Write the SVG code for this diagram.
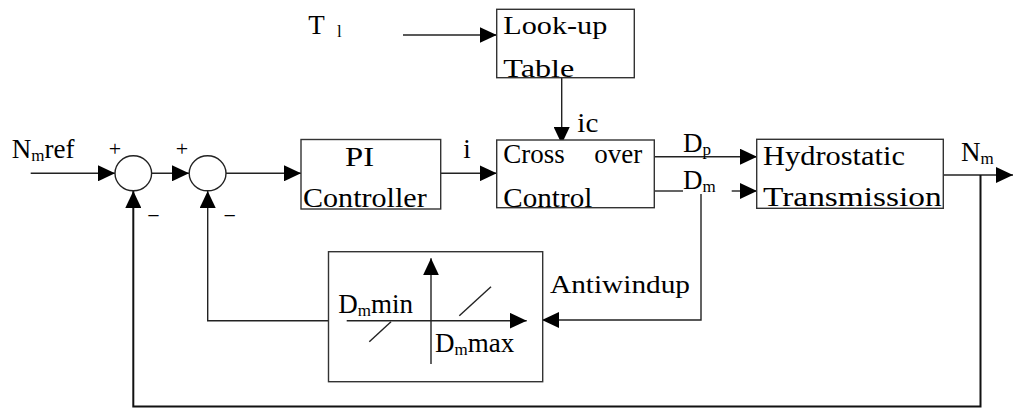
<svg xmlns="http://www.w3.org/2000/svg" width="1014" height="408" viewBox="0 0 1014 408" font-family="'Liberation Serif', 'DejaVu Serif', serif">
<defs>
<style>
.ln{fill:none;stroke:#222;stroke-width:1.4}
.fb{fill:none;stroke:#111;stroke-width:2}
.bx{fill:#fff;stroke:#333;stroke-width:1.4}
.sm{fill:#fff;stroke:#222;stroke-width:1.4}
.t{font-family:'Liberation Serif','DejaVu Serif',serif;fill:#000;font-size:27px}
.s26{font-size:26px}
.sub{font-size:17px}
.pm{font-size:22px;text-anchor:middle}
</style>
<marker id="ah" viewBox="0 0 17 16" refX="17" refY="8" markerWidth="17" markerHeight="16" markerUnits="userSpaceOnUse" orient="auto"><path d="M0,0 L17,8 L0,16 z" fill="#000"/></marker>
</defs>
<rect width="1014" height="408" fill="#fff"/>

<g id="connectors">
<path class="ln" d="M30.7 173.3 H115" marker-end="url(#ah)"/>
<path class="ln" d="M151.7 173.3 H189" marker-end="url(#ah)"/>
<path class="ln" d="M226 173.3 H301" marker-end="url(#ah)"/>
<path class="ln" d="M440.7 173.3 H496.7" marker-end="url(#ah)"/>
<path class="ln" d="M403 35 H496.7" marker-end="url(#ah)"/>
<path class="ln" d="M561.7 78 V144" marker-end="url(#ah)"/>
<path class="ln" d="M654 156.7 H757" marker-end="url(#ah)"/>
<path class="ln" d="M654 191 H683"/>
<path class="ln" d="M731.7 191 H757" marker-end="url(#ah)"/>
<path class="ln" d="M701 194 V320 H542" marker-end="url(#ah)"/>
<path class="ln" d="M943.3 175 H1013" marker-end="url(#ah)"/>
<path class="fb" d="M980.5 175 V406.5 H133.3 V191" marker-end="url(#ah)"/>
<path class="ln" d="M328.5 320.7 H207.7 V191" marker-end="url(#ah)"/>
<text class="t" x="463.3" y="158">i</text>
<text class="t" x="577.3" y="131.7" textLength="21" lengthAdjust="spacingAndGlyphs">ic</text>
<text class="t" x="308.3" y="34">T<tspan x="337" y="37" class="sub">l</tspan></text>
<text class="t" x="683" y="151.7">D<tspan dy="3.3" class="sub">p</tspan></text>
<text class="t" x="683" y="189">D<tspan dy="2.5" class="sub">m</tspan></text>
<text class="t" x="961" y="161">N<tspan dy="2.5" class="sub">m</tspan></text>
<text class="t" x="11.7" y="158.3">N<tspan dy="3" class="sub">m</tspan><tspan dy="-3">ref</tspan></text>
<text class="t s26" x="550" y="293.3" textLength="140" lengthAdjust="spacingAndGlyphs">Antiwindup</text>
<text class="t pm" x="115" y="156">+</text>
<text class="t pm" x="182" y="156">+</text>
<text class="t pm" x="153.5" y="222.5">−</text>
<text class="t pm" x="229.8" y="222.5">−</text>
</g>

<g id="sum1"><ellipse class="sm" cx="133.3" cy="173.3" rx="18.3" ry="17.5"/></g>
<g id="sum2"><ellipse class="sm" cx="207.6" cy="173.3" rx="18.4" ry="17.5"/></g>

<g id="pi-controller">
<rect class="bx" x="301" y="139.5" width="139.7" height="69.5"/>
<text class="t" x="345" y="165.7" textLength="29" lengthAdjust="spacingAndGlyphs">PI</text>
<text class="t" x="303" y="206.7" textLength="123.7" lengthAdjust="spacingAndGlyphs">Controller</text>
</g>

<g id="lookup-table">
<rect class="bx" x="496.7" y="9.3" width="137.6" height="68.4"/>
<text class="t s26" x="503.3" y="34.3" textLength="104" lengthAdjust="spacingAndGlyphs">Look-up</text>
<text class="t s26" x="503.3" y="76.7" textLength="71" lengthAdjust="spacingAndGlyphs">Table</text>
</g>

<g id="crossover-control">
<rect class="bx" x="496.7" y="140" width="157.6" height="67.7"/>
<text class="t" x="503.3" y="163.3">Cross <tspan x="594.3">over</tspan></text>
<text class="t" x="503.3" y="206.5" textLength="89" lengthAdjust="spacingAndGlyphs">Control</text>
</g>

<g id="hydrostatic-transmission">
<rect class="bx" x="756.7" y="139.3" width="186.6" height="69"/>
<text class="t" x="763" y="165" textLength="142" lengthAdjust="spacingAndGlyphs">Hydrostatic</text>
<text class="t" x="763" y="206" textLength="178.7" lengthAdjust="spacingAndGlyphs">Transmission</text>
</g>

<g id="saturation">
<rect class="bx" x="328.5" y="251.7" width="214.2" height="130"/>
<path class="ln" d="M346.7 320.7 H526.7" marker-end="url(#ah)"/>
<path class="ln" d="M431 364 V258.3" marker-end="url(#ah)"/>
<path class="ln" d="M369.3 341.7 L391 321.7"/>
<path class="ln" d="M459.3 315.7 L491 286.7"/>
<text class="t" x="338.3" y="313.3">D<tspan dy="3" class="sub">m</tspan><tspan dy="-3">min</tspan></text>
<text class="t" x="435" y="351.7">D<tspan dy="3" class="sub">m</tspan><tspan dy="-3">max</tspan></text>
</g>
</svg>
